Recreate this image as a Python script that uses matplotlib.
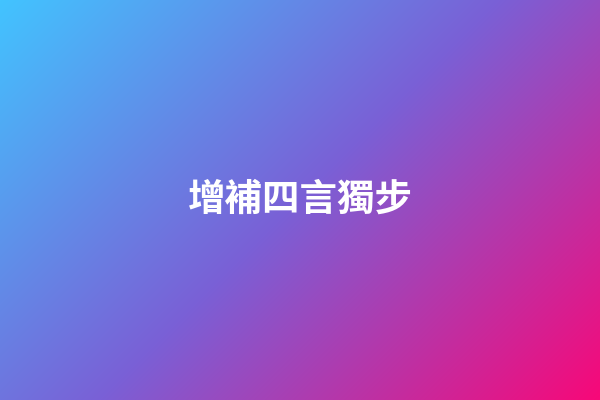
import numpy as np
import matplotlib
from matplotlib import pyplot as plt

matplotlib.use('agg')

title = "增補四言獨步"

# gradient stops along the top-left -> bottom-right diagonal
stop_pos = [0.0, 0.5, 1.0]
stop_r = [66, 122, 248]
stop_g = [196, 96, 8]
stop_b = [255, 214, 120]

W, H = 600, 400

fig = plt.figure(figsize=(6, 4), dpi=100)
ax = fig.add_axes([0, 0, 1, 1])

yy, xx = np.mgrid[0:H, 0:W]
t = (xx + yy) / (W + H - 2)
img = np.dstack([np.interp(t, stop_pos, c) for c in (stop_r, stop_g, stop_b)]) / 255.0

ax.imshow(img, extent=(0, W, H, 0), interpolation='bilinear')
ax.set_xlim(0, W)
ax.set_ylim(H, 0)
ax.axis('off')

ax.text(300, 199, title, color='white', fontsize=27, fontweight='bold',
        family=['Noto Sans CJK TC', 'DejaVu Sans'], ha='center', va='center')

fig.savefig('out.png', dpi=100)
plt.close(fig)
